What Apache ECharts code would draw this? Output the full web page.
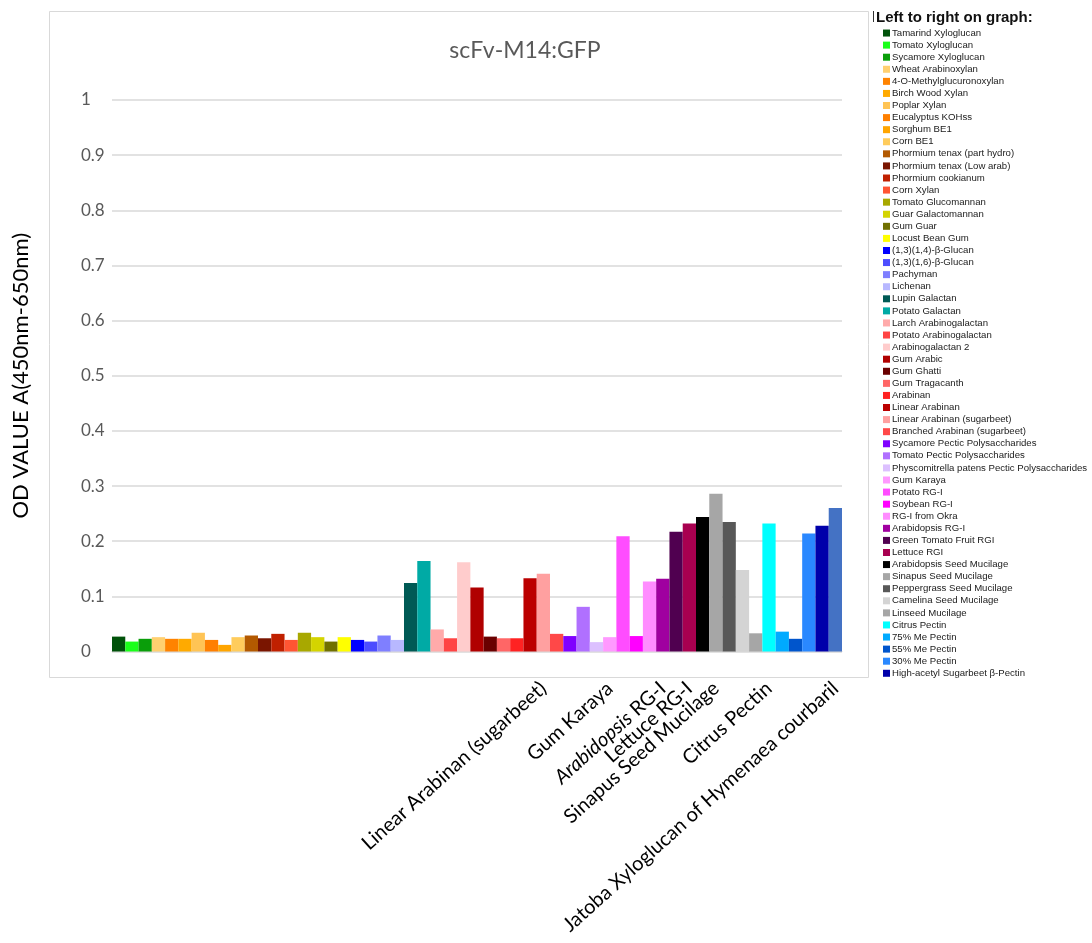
<!DOCTYPE html>
<html>
<head>
<meta charset="utf-8">
<script src="https://cdn.jsdelivr.net/npm/echarts@6/dist/echarts.min.js"></script>
<style>
  html, body { margin: 0; padding: 0; background: #ffffff; }
  #chart { width: 1092px; height: 943px; }
</style>
</head>
<body>
<div id="chart"></div>
<script>
// Polysaccharide panel, left to right as plotted
const categories = [
  'Tamarind Xyloglucan', 'Tomato Xyloglucan', 'Sycamore Xyloglucan', 'Wheat Arabinoxylan',
  '4-O-Methylglucuronoxylan', 'Birch Wood Xylan', 'Poplar Xylan', 'Eucalyptus KOHss',
  'Sorghum BE1', 'Corn BE1', 'Phormium tenax (part hydro)', 'Phormium tenax (Low arab)',
  'Phormium cookianum', 'Corn Xylan', 'Tomato Glucomannan', 'Guar Galactomannan',
  'Gum Guar', 'Locust Bean Gum', '(1,3)(1,4)-β-Glucan', '(1,3)(1,6)-β-Glucan',
  'Pachyman', 'Lichenan', 'Lupin Galactan', 'Potato Galactan',
  'Larch Arabinogalactan', 'Potato Arabinogalactan', 'Arabinogalactan 2', 'Gum Arabic',
  'Gum Ghatti', 'Gum Tragacanth', 'Arabinan', 'Linear Arabinan',
  'Linear Arabinan (sugarbeet)', 'Branched Arabinan (sugarbeet)', 'Sycamore Pectic Polysaccharides', 'Tomato Pectic Polysaccharides',
  'Physcomitrella patens Pectic Polysaccharides', 'Gum Karaya', 'Potato RG-I', 'Soybean RG-I',
  'RG-I from Okra', 'Arabidopsis RG-I', 'Green Tomato Fruit RGI', 'Lettuce RGI',
  'Arabidopsis Seed Mucilage', 'Sinapus Seed Mucilage', 'Peppergrass Seed Mucilage', 'Camelina Seed Mucilage',
  'Linseed Mucilage', 'Citrus Pectin', '75% Me Pectin', '55% Me Pectin',
  '30% Me Pectin', 'High-acetyl Sugarbeet β-Pectin', 'Jatoba Xyloglucan of Hymenaea courbaril'
];

// OD (450nm-650nm) per polysaccharide
const odValues = [
  0.027, 0.018, 0.023, 0.026,
  0.023, 0.023, 0.034, 0.021,
  0.012, 0.026, 0.029, 0.024,
  0.032, 0.021, 0.034, 0.026,
  0.018, 0.026, 0.021, 0.018,
  0.029, 0.021, 0.124, 0.164,
  0.040, 0.024, 0.162, 0.116,
  0.027, 0.024, 0.024, 0.133,
  0.141, 0.032, 0.028, 0.081,
  0.017, 0.026, 0.209, 0.028,
  0.127, 0.132, 0.217, 0.232,
  0.244, 0.286, 0.235, 0.148,
  0.033, 0.232, 0.036, 0.023,
  0.214, 0.228, 0.260
];

// Category axis text (only a few bars are named under the axis)
const axisLabels = categories.map(() => '');
axisLabels[32] = 'Linear Arabinan (sugarbeet)';
axisLabels[37] = 'Gum Karaya';
axisLabels[41] = '{i|Arabidopsis} RG-I';
axisLabels[43] = 'Lettuce RG-I';
axisLabels[45] = 'Sinapus Seed Mucilage';
axisLabels[49] = 'Citrus Pectin';
axisLabels[54] = 'Jatoba Xyloglucan of Hymenaea courbaril';

const yTicks = [0, 0.1, 0.2, 0.3, 0.4, 0.5, 0.6, 0.7, 0.8, 0.9, 1];

const palette = [
  '#00520a', '#1aff1a', '#0a9e0a', '#ffd070',
  '#ff8300', '#ffaa00', '#ffc455', '#ff7f00',
  '#ffa500', '#ffcc5c', '#b35900', '#7a1500',
  '#c02000', '#ff5533', '#a8a800', '#d4d400',
  '#707000', '#ffff00', '#0000ff', '#4d4dff',
  '#7f7fff', '#b8b8ff', '#005a55', '#00aaa5',
  '#ffaaaa', '#ff4444', '#ffcccc', '#b00000',
  '#6a0000', '#ff6666', '#ff2222', '#bb0000',
  '#ffa0a0', '#ff4848', '#8000ff', '#b070ff',
  '#dcc0ff', '#ff99ff', '#ff4dff', '#ff00ff',
  '#ff8cff', '#a000a0', '#500050', '#a80050',
  '#000000', '#a6a6a6', '#585858', '#d4d4d4',
  '#a6a6a6', '#00ffff', '#00aaff', '#0055cc',
  '#2a88ff', '#0000aa', '#4472c4'
];

const chart = echarts.init(document.getElementById('chart'), null, { renderer: 'canvas' });

// one stacked series per polysaccharide so each gets its own legend entry
const series = categories.map((name, i) => ({
  name: name,
  type: 'bar',
  stack: 'all',
  barWidth: '100%',
  itemStyle: { color: palette[i] },
  emphasis: { disabled: true },
  data: odValues.map((v, j) => (j === i ? v : '-'))
}));

chart.setOption({
  animation: false,
  backgroundColor: '#ffffff',
  title: {
    text: 'scFv-M14:GFP',
    left: 520,
    top: 34,
    textAlign: 'center',
    textStyle: { fontFamily: 'Lato', fontSize: 23, fontWeight: 'normal', color: '#595959' }
  },
  graphic: [
    {
      type: 'rect', z: -1, silent: true,
      shape: { x: 49.5, y: 11.5, width: 819, height: 666 },
      style: { fill: null, stroke: '#d9d9d9', lineWidth: 1 }
    },
    {
      type: 'line', silent: true,
      shape: { x1: 873.5, y1: 11, x2: 873.5, y2: 22 },
      style: { stroke: '#333333', lineWidth: 1 }
    },
    {
      type: 'text', silent: true, left: 876, top: 10,
      style: { text: 'Left to right on graph:', font: 'bold 15px "Liberation Sans"', fill: '#111111' }
    }
  ],
  legend: {
    data: categories.slice(0, 54),
    orient: 'vertical',
    left: 883,
    top: 27,
    itemWidth: 7,
    itemHeight: 7,
    itemGap: 0,
    icon: 'rect',
    selectedMode: false,
    padding: 0,
    textStyle: {
      fontFamily: 'Liberation Sans', fontSize: 9.6, lineHeight: 12.08,
      color: '#1a1a1a', padding: [0, 0, 0, -3]
    }
  },
  grid: {
    left: 112, right: 250, top: 100, bottom: 291.5,
    containLabel: false, outerBoundsMode: 'none'
  },
  xAxis: {
    type: 'category',
    data: categories,
    axisTick: { show: false },
    axisLine: { lineStyle: { color: '#d9d9d9', width: 1 } },
    axisLabel: {
      interval: 0,
      rotate: 42,
      margin: 34,
      fontFamily: 'Lato',
      fontSize: 20,
      color: '#000000',
      formatter: (val, idx) => axisLabels[idx],
      rich: { i: { fontFamily: 'Lato', fontSize: 20, fontStyle: 'italic', color: '#000000' } }
    }
  },
  yAxis: {
    type: 'value',
    min: 0,
    max: 1,
    interval: 0.1,
    name: 'OD VALUE A(450nm-650nm)',
    nameLocation: 'middle',
    nameRotate: 90,
    nameGap: 80,
    nameTextStyle: { fontFamily: 'Lato', fontSize: 22, color: '#000000' },
    axisLine: { show: false },
    axisTick: { show: false },
    splitLine: { lineStyle: { color: '#d9d9d9', width: 1.5 } },
    axisLabel: {
      margin: 31,
      align: 'left',
      fontFamily: 'Lato',
      fontSize: 17,
      color: '#595959',
      formatter: (v) => {
        const t = yTicks.find((k) => Math.abs(k - v) < 1e-9);
        return t === undefined ? '' : String(t);
      }
    }
  },
  series: series
});
</script>
</body>
</html>
